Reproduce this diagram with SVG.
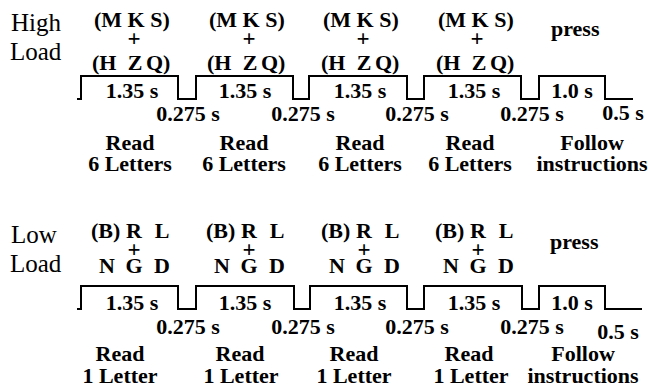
<svg xmlns="http://www.w3.org/2000/svg" width="648" height="388" viewBox="0 0 648 388">
<style>
text{font-family:'Liberation Serif','Times New Roman',Times,serif;fill:#000}
.r{font-size:25px}
.b{font-size:22px;font-weight:bold}
.p{font-size:23px;font-weight:bold;text-anchor:middle}
.m{text-anchor:middle}
.w{fill:none;stroke:#000;stroke-width:2}
</style>
<rect width="648" height="388" fill="#fff"/>
<g id="high-load">
<text class="r" x="11" y="31">High</text>
<text class="r" x="10" y="60">Load</text>
<g id="high-stimuli">
<text class="b" x="94" y="27">(M K S)</text><text class="p" x="134" y="46">+</text>
<text class="b" y="70"><tspan x="92">(H</tspan><tspan x="135" text-anchor="middle">Z</tspan><tspan x="146">Q)</tspan></text>
<text class="b" x="209" y="27">(M K S)</text><text class="p" x="249" y="46">+</text>
<text class="b" y="70"><tspan x="207">(H</tspan><tspan x="250" text-anchor="middle">Z</tspan><tspan x="261">Q)</tspan></text>
<text class="b" x="323" y="27">(M K S)</text><text class="p" x="363" y="46">+</text>
<text class="b" y="70"><tspan x="321">(H</tspan><tspan x="364" text-anchor="middle">Z</tspan><tspan x="375">Q)</tspan></text>
<text class="b" x="438" y="27">(M K S)</text><text class="p" x="477" y="46">+</text>
<text class="b" y="70"><tspan x="436">(H</tspan><tspan x="479" text-anchor="middle">Z</tspan><tspan x="490">Q)</tspan></text>
<text class="b" x="551" y="36">press</text>
</g>
<g id="high-durations">
<text class="b m" x="132" y="98">1.35 s</text>
<text class="b m" x="245" y="98">1.35 s</text>
<text class="b m" x="360" y="98">1.35 s</text>
<text class="b m" x="474" y="98">1.35 s</text>
<text class="b m" x="572" y="98">1.0 s</text>
<text class="b m" x="188" y="121">0.275 s</text>
<text class="b m" x="303" y="121">0.275 s</text>
<text class="b m" x="417" y="121">0.275 s</text>
<text class="b m" x="532" y="121">0.275 s</text>
<text class="b m" x="623" y="120">0.5 s</text>
</g>
<g id="high-tasks">
<text class="b m" x="130" y="150">Read</text><text class="b m" x="130" y="171">6 Letters</text>
<text class="b m" x="244" y="150">Read</text><text class="b m" x="244" y="171">6 Letters</text>
<text class="b m" x="360" y="150">Read</text><text class="b m" x="360" y="171">6 Letters</text>
<text class="b m" x="470" y="150">Read</text><text class="b m" x="470" y="171">6 Letters</text>
<text class="b m" x="592" y="150">Follow</text><text class="b m" x="592" y="171">instructions</text>
</g>
</g>
<g id="low-load">
<text class="r" x="11" y="243">Low</text>
<text class="r" x="10" y="272">Load</text>
<g id="low-stimuli">
<text class="b" x="91" y="238">(B)</text><text class="b m" x="134" y="238">R</text><text class="b m" x="162" y="238">L</text>
<text class="p" x="134" y="257">+</text>
<text class="b m" y="273"><tspan x="107">N</tspan><tspan x="134">G</tspan><tspan x="162">D</tspan></text>
<text class="b" x="206" y="238">(B)</text><text class="b m" x="249" y="238">R</text><text class="b m" x="277" y="238">L</text>
<text class="p" x="249" y="257">+</text>
<text class="b m" y="273"><tspan x="222">N</tspan><tspan x="249">G</tspan><tspan x="277">D</tspan></text>
<text class="b" x="321" y="238">(B)</text><text class="b m" x="364" y="238">R</text><text class="b m" x="392" y="238">L</text>
<text class="p" x="364" y="257">+</text>
<text class="b m" y="273"><tspan x="337">N</tspan><tspan x="364">G</tspan><tspan x="392">D</tspan></text>
<text class="b" x="435" y="238">(B)</text><text class="b m" x="478" y="238">R</text><text class="b m" x="506" y="238">L</text>
<text class="p" x="478" y="257">+</text>
<text class="b m" y="273"><tspan x="451">N</tspan><tspan x="478">G</tspan><tspan x="506">D</tspan></text>
<text class="b" x="550" y="249">press</text>
</g>
<g id="low-durations">
<text class="b m" x="132" y="310">1.35 s</text>
<text class="b m" x="245" y="310">1.35 s</text>
<text class="b m" x="360" y="310">1.35 s</text>
<text class="b m" x="474" y="310">1.35 s</text>
<text class="b m" x="572" y="310">1.0 s</text>
<text class="b m" x="188" y="334">0.275 s</text>
<text class="b m" x="303" y="334">0.275 s</text>
<text class="b m" x="417" y="334">0.275 s</text>
<text class="b m" x="532" y="334">0.275 s</text>
<text class="b m" x="618" y="339">0.5 s</text>
</g>
<g id="low-tasks">
<text class="b m" x="120" y="361">Read</text><text class="b m" x="120" y="383">1 Letter</text>
<text class="b m" x="240" y="361">Read</text><text class="b m" x="241" y="383">1 Letter</text>
<text class="b m" x="354" y="361">Read</text><text class="b m" x="354" y="383">1 Letter</text>
<text class="b m" x="469" y="361">Read</text><text class="b m" x="471" y="383">1 Letter</text>
<text class="b m" x="583" y="361">Follow</text><text class="b m" x="583" y="383">instructions</text>
</g>
</g>
<g id="connectors">
<path class="w" d="M77,99 H81 V76 H178 V99 H196 V76 H293 V99 H309 V76 H407 V99 H424 V76 H521 V99 H539 V76 H605 V99 H633"/>
<path class="w" d="M77,309 H81 V286 H178 V309 H196 V286 H294 V309 H310 V286 H407 V309 H424 V286 H522 V309 H539 V286 H605 V309 H642"/>
</g>
</svg>
